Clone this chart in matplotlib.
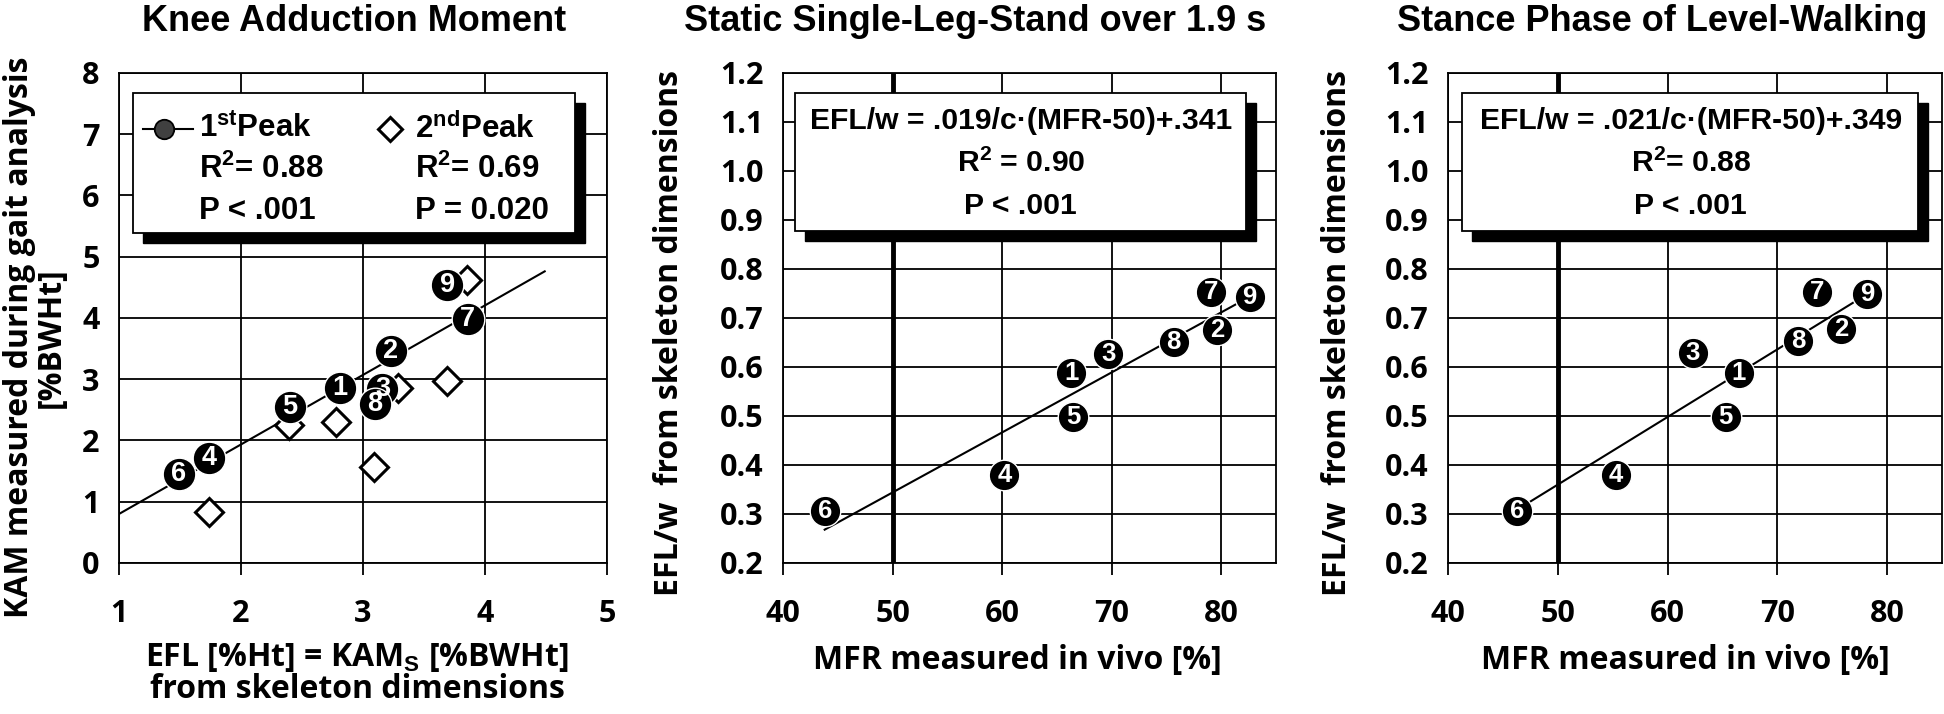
import numpy as np
import matplotlib
matplotlib.use('Agg')
import matplotlib.pyplot as plt
from matplotlib.patches import Rectangle
from matplotlib.transforms import ScaledTranslation

plt.rcParams['mathtext.fontset'] = 'custom'
plt.rcParams['mathtext.rm'] = 'Liberation Sans:bold'
plt.rcParams['mathtext.it'] = 'Liberation Sans:bold'
plt.rcParams['mathtext.bf'] = 'Liberation Sans:bold'

# subject numbers
subjects = ['1', '2', '3', '4', '5', '6', '7', '8', '9']

# panel 1: knee adduction moment
efl = [2.81, 3.23, 3.16, 1.74, 2.40, 1.49, 3.86, 3.10, 3.69]
kam_peak1 = [2.85, 3.46, 2.84, 1.72, 2.55, 1.45, 3.98, 2.59, 4.54]
efl_peak2 = [3.85, 3.69, 3.29, 2.78, 2.39, 3.09, 1.74]
kam_peak2 = [4.62, 2.97, 2.85, 2.30, 2.25, 1.57, 0.83]
fit1_range = [1.0, 4.49]
fit1_slope = 1.135
fit1_icpt = -0.335

# panel 2: static single-leg-stand
mfr_stand = [66.3, 79.6, 69.7, 60.2, 66.5, 43.8, 79.1, 75.65, 82.6]
eflw_stand = [0.587, 0.675, 0.626, 0.379, 0.497, 0.307, 0.753, 0.652, 0.742]
fit2_range = [43.8, 81.5]
fit2_slope = 0.01225
fit2_at50 = 0.344

# panel 3: stance phase of level walking
mfr_walk = [66.5, 75.8, 62.3, 55.3, 65.3, 46.3, 73.6, 71.9, 78.2]
eflw_walk = [0.588, 0.677, 0.628, 0.379, 0.497, 0.307, 0.753, 0.654, 0.748]
fit3_range = [46.3, 78.2]
fit3_slope = 0.0138
fit3_at50 = 0.36

titles = ['Knee Adduction Moment', 'Static Single-Leg-Stand over 1.9 s',
          'Stance Phase of Level-Walking']

TF = 'Liberation Sans'
LF = 'Open Sans'

fig = plt.figure(figsize=(19.44, 7.14), dpi=100)
ax1 = fig.add_axes([0.0612, 0.2115, 0.251, 0.6863])
ax2 = fig.add_axes([0.4028, 0.2115, 0.2536, 0.6863])
ax3 = fig.add_axes([0.7449, 0.2115, 0.2541, 0.6863])


def style(ax):
    ax.grid(True, color='black', lw=1.3, zorder=0)
    ax.set_axisbelow(True)
    for s in ax.spines.values():
        s.set_linewidth(1.3)
    ax.tick_params(axis='x', length=8.6, width=1.3, pad=17, labelsize=22)
    ax.tick_params(axis='y', length=0, pad=14, labelsize=22)
    for lab in ax.get_xticklabels() + ax.get_yticklabels():
        lab.set_fontfamily(LF)
        lab.set_fontweight('bold')


def box(ax, x0, y0, x1, y1):
    sh = ax.transData + ScaledTranslation(10 / 100, -10 / 100, fig.dpi_scale_trans)
    ax.add_patch(Rectangle((x0, y0), x1 - x0, y1 - y0, facecolor='black',
                           edgecolor='black', transform=sh, zorder=3))
    ax.add_patch(Rectangle((x0, y0), x1 - x0, y1 - y0, facecolor='white',
                           edgecolor='black', lw=1.3, zorder=4))


def circles(ax, xs, ys, ms, fs):
    ax.plot(xs, ys, 'o', ms=ms, mfc='black', mec='white', mew=1, zorder=6)
    for x, y, s in zip(xs, ys, subjects):
        ax.text(x, y, s, color='white', fontsize=fs, fontweight='bold',
                family=TF, ha='center', va='center', zorder=7)


# ---- panel 1
ax1.set_xlim(1, 5)
ax1.set_ylim(0, 8)
ax1.set_xticks([1, 2, 3, 4, 5])
ax1.set_yticks(range(0, 9))
style(ax1)
xx = np.array(fit1_range)
ax1.plot(xx, fit1_slope * xx + fit1_icpt, color='black', lw=1.5, zorder=5)
ax1.plot(efl_peak2, kam_peak2, 'D', ms=14, mfc='white', mec='black', mew=2.2,
         zorder=5)
circles(ax1, efl, kam_peak1, 23.5, 19.5)
box(ax1, 1.117, 5.38, 4.74, 7.68)
ax1.plot([1.2, 1.61], [7.09, 7.09], color='black', lw=1.5, zorder=5)
ax1.plot([1.37], [7.09], 'o', ms=14, mfc='#404040', mec='black', mew=1.3, zorder=6)
ax1.plot([3.22], [7.09], 'D', ms=12, mfc='white', mec='black', mew=2.2, zorder=6)
kw = dict(fontsize=22.5, fontweight='bold', family=TF, va='center', zorder=7)
ax1.text(1.66, 7.09, r'1$^{st}$Peak', **kw)
ax1.text(1.66, 6.42, r'R$^{2}$= 0.88', **kw)
ax1.text(1.66, 5.75, 'P < .001', **kw)
ax1.text(3.43, 7.09, r'2$^{nd}$Peak', **kw)
ax1.text(3.43, 6.42, r'R$^{2}$= 0.69', **kw)
ax1.text(3.43, 5.75, 'P = 0.020', **kw)
ax1.set_ylabel('KAM measured during gait analysis\n[%BWHt]', fontsize=23,
               fontweight='bold', family=LF, linespacing=0.95)
ax1.yaxis.set_label_coords(-0.104, 0.46)
ax1.set_xlabel('EFL [%Ht] = KAM$_{S}$ [%BWHt]\nfrom skeleton dimensions',
               fontsize=23, fontweight='bold', family=LF, linespacing=0.95)
ax1.xaxis.set_label_coords(0.488, -0.16)

# ---- panels 2 and 3
panels = [
    (ax2, mfr_stand, eflw_stand, fit2_range, fit2_slope, fit2_at50,
     (41.08, 0.877, 82.3, 1.16), 61.7,
     ['EFL/w = .019/c\u00b7(MFR-50)+.341', r'R$^{2}$ = 0.90', 'P < .001'],
     -0.196, 0.476),
    (ax3, mfr_walk, eflw_walk, fit3_range, fit3_slope, fit3_at50,
     (41.3, 0.877, 82.85, 1.16), 62.1,
     ['EFL/w = .021/c\u00b7(MFR-50)+.349', r'R$^{2}$= 0.88', 'P < .001'],
     -0.19, 0.48),
]
for ax, xs, ys, rng, slope, at50, bx, cx, lines, ylx, xlx in panels:
    ax.set_xlim(40, 85)
    ax.set_ylim(0.2, 1.2)
    ax.set_xticks([40, 50, 60, 70, 80])
    ax.set_yticks(np.round(np.arange(0.2, 1.21, 0.1), 1))
    ax.set_yticklabels([f'{v:.1f}' for v in np.arange(0.2, 1.21, 0.1)])
    style(ax)
    ax.axvline(50, color='black', lw=3.5, zorder=1)
    xx = np.array(rng)
    ax.plot(xx, slope * (xx - 50) + at50, color='black', lw=1.5, zorder=5)
    circles(ax, xs, ys, 22, 18.5)
    box(ax, *bx)
    for yv, t in zip([1.101, 1.015, 0.928], lines):
        ax.text(cx, yv, t, fontsize=21.7, fontweight='bold', family=TF,
                ha='center', va='center', zorder=7)
    ax.set_ylabel('EFL/w  from skeleton dimensions', fontsize=23,
                  fontweight='bold', family=LF)
    ax.yaxis.set_label_coords(ylx, 0.47)
    ax.set_xlabel('MFR measured in vivo [%]', fontsize=23, fontweight='bold',
                  family=LF)
    ax.xaxis.set_label_coords(xlx, -0.165)

for ax, t, tx in zip([ax1, ax2, ax3], titles, [0.482, 0.39, 0.433]):
    ax.text(tx, 1.085, t, transform=ax.transAxes, ha='center', va='baseline',
            fontsize=26, fontweight='bold', family=TF)

fig.savefig('out.png', dpi=100)
